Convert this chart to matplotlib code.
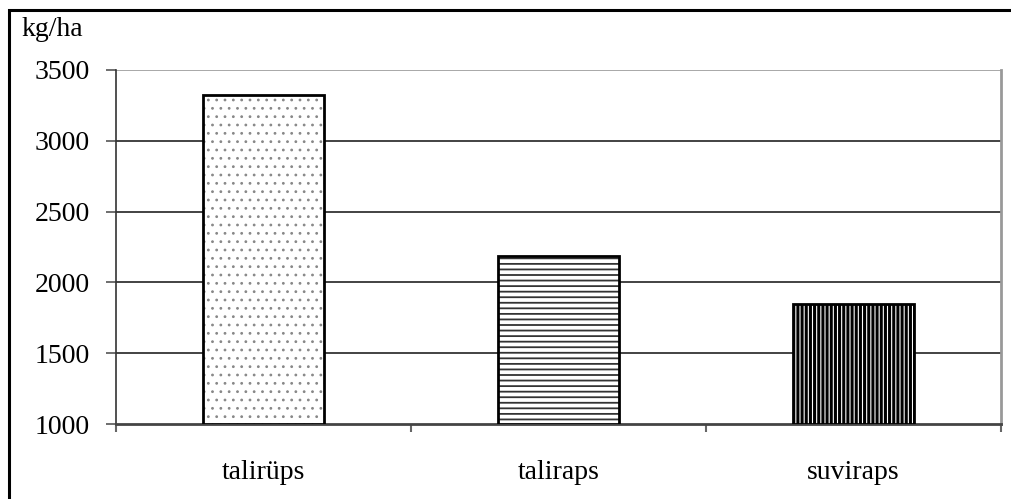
import matplotlib.pyplot as plt
from matplotlib.patches import Rectangle

# Seed yield by crop
crops = ['talirüps', 'taliraps', 'suviraps']
yields = [3320, 2185, 1845]
hatches = ['..', '---', '||||']
hatch_colors = ['#888888', '#333333', 'black']
hatch_widths = [0.8, 1.3, 2.2]
y_ticks = [1000, 1500, 2000, 2500, 3000, 3500]

plt.rcParams['font.family'] = 'Liberation Serif'

fig = plt.figure(figsize=(10.12, 4.99), dpi=100)
ax = fig.add_axes([116 / 1012, 1 - 424 / 499, 885 / 1012, 354 / 499])

for i, (val, h, hc, hw) in enumerate(zip(yields, hatches, hatch_colors, hatch_widths)):
    bar = ax.bar(i, val - 1000, bottom=1000, width=0.41, color='white',
                 edgecolor=hc, hatch=h, linewidth=0, zorder=3)[0]
    if hasattr(bar, 'set_hatch_linewidth'):
        bar.set_hatch_linewidth(hw)
    # black outline on top of the hatch
    ax.bar(i, val - 1000, bottom=1000, width=0.41, fill=False,
           edgecolor='black', linewidth=2.0, zorder=4)

ax.set_xlim(-0.5, 2.5)
ax.set_ylim(1000, 3500)
ax.set_yticks(y_ticks)
ax.set_xticks(range(len(crops)))
ax.set_xticklabels(crops)
ax.set_xticks([-0.5, 0.5, 1.5, 2.5], minor=True)

for y in y_ticks[1:]:
    ax.axhline(y, color='#222222' if y < 3500 else '#999999', linewidth=1.2, zorder=1)

ax.tick_params(axis='y', length=7, width=1.2, color='#555555', pad=12, labelsize=20)
ax.tick_params(axis='x', which='major', length=0, pad=26, labelsize=20)
ax.tick_params(axis='x', which='minor', length=6, width=1.5, color='#666666')

ax.spines['top'].set_visible(False)
ax.spines['left'].set_color('#333333')
ax.spines['left'].set_linewidth(1.2)
ax.spines['bottom'].set_color('#444444')
ax.spines['bottom'].set_linewidth(2)
ax.spines['right'].set_color('#999999')
ax.spines['right'].set_linewidth(2)

fig.text(22 / 1012, 1 - 29 / 499, 'kg/ha', fontsize=20, va='center', ha='left')

# outer frame
fig.patches.append(Rectangle((9 / 1012, -0.1), 1.2, 1 - 10 / 499 + 0.1,
                             transform=fig.transFigure, fill=False,
                             edgecolor='black', linewidth=2.2))

fig.savefig('out.png', dpi=100)
